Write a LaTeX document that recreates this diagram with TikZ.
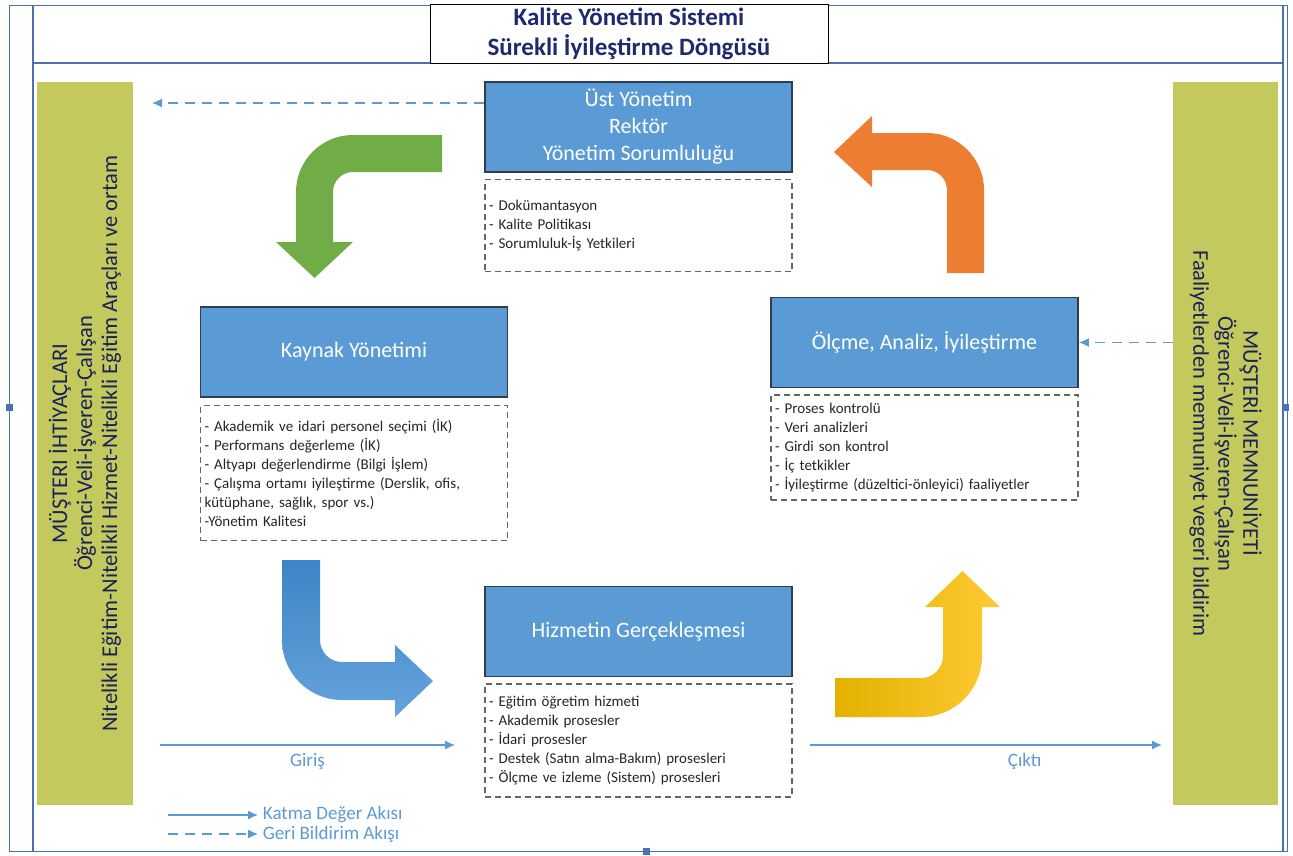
\documentclass[tikz,border=0pt]{standalone}
\usepackage{fontspec}
\setmainfont{Carlito}
\usetikzlibrary{positioning,arrows.meta}

\definecolor{boxblue}{HTML}{5B9BD5}
\definecolor{boxedge}{HTML}{2E3D4F}
\definecolor{barolive}{HTML}{C4C95D}
\definecolor{navy}{HTML}{1F2A6E}
\definecolor{flowblue}{HTML}{5B9BD5}
\definecolor{framebl}{HTML}{4A72B0}
\definecolor{arrgreen}{HTML}{70AD47}
\definecolor{arrorange}{HTML}{ED7D31}
\definecolor{arrblueA}{HTML}{3D85C6}
\definecolor{arrblueB}{HTML}{66A3DC}
\definecolor{arryelA}{HTML}{E3B200}
\definecolor{arryelB}{HTML}{FFC933}

\begin{document}
\begin{tikzpicture}[x=1pt, y=1pt,
		frame/.style     = {draw=framebl, line width=1.2pt},
		title/.style     = {draw, fill=white, thick, minimum width=398pt, minimum height=58pt, align=center, text=navy, font=\fontsize{25}{30}\selectfont\bfseries},
		process/.style   = {draw=boxedge, line width=1.8pt, fill=boxblue, minimum width=307pt, minimum height=90pt, align=center, text=white, font=\fontsize{22}{27}\selectfont},
		notes/.style     = {draw=gray!80!black, line width=1.2pt, dash pattern=on 6pt off 4pt, fill=white, text width=299pt, inner xsep=4pt, align=left, text=black!85, font=\fontsize{15}{19}\selectfont},
		sidebar/.style   = {fill=barolive, minimum width=723pt, align=center, text=navy!80!black, font=\fontsize{22.5}{25}\selectfont},
		flow/.style      = {->, draw=flowblue, line width=1.2pt},
		feedback/.style  = {flow, dash pattern=on 10pt off 7pt},
		flowlabel/.style = {text=flowblue, font=\fontsize{19}{21}\selectfont},
		>={Latex[length=10pt,width=9pt]}]
	
	\useasboundingbox (0,0) rectangle (1293,-855);
	
	% page frame and title
	\draw[frame, line width=0.8pt] (9,-5) rectangle (1287,-851);
	\draw[frame] (33,-5) -- (33,-851);
	\draw[frame] (1283,-5) -- (1283,-851);
	\draw[frame] (33,-63) -- (1283,-63);
	\foreach \hx/\hy in {9/407, 1285/407, 646/851}
	\fill[framebl] (\hx-3.5,-\hy-3.5) rectangle (\hx+3.5,-\hy+3.5);
	
	\node[title] (baslik) at (629,-34) {Kalite Yönetim Sistemi\\Sürekli İyileştirme Döngüsü};
	
	% customer bars
	\node[sidebar, rotate=90, minimum height=96pt] (ihtiyac) at (85,-443.5)
	{MÜŞTERI İHTİYAÇLARI\\Öğrenci-Veli-İşveren-Çalışan\\Nitelikli Eğitim-Nitelikli Hizmet-Nitelikli Eğitim Araçları ve ortam};
	\node[sidebar, rotate=-90, minimum height=105pt] (memnun) at (1225.5,-443.5)
	{MÜŞTERİ MEMNUNİYETİ\\Öğrenci-Veli-İşveren-Çalışan\\Faaliyetlerden memnuniyet vegeri bildirim};
	
	% the four processes, notes below each one
	\node[process] (ust)    at (638.5,-127)  {Üst Yönetim\\Rektör\\Yönetim Sorumluluğu};
	\node[process] (kaynak) at (354,-352)    {Kaynak Yönetimi};
	\node[process] (olcme)  at (924.5,-342.5) {Ölçme, Analiz, İyileştirme};
	\node[process] (hizmet) at (638.5,-631.5) {Hizmetin Gerçekleşmesi};
	
	\node[notes, below=6pt of ust, minimum height=92pt] (ustN)
	{- Dokümantasyon\\- Kalite Politikası\\- Sorumluluk-İş Yetkileri};
	\node[notes, below=7pt of kaynak, minimum height=135pt] (kaynakN)
	{- Akademik ve idari personel seçimi (İK)\\- Performans değerleme (İK)\\- Altyapı değerlendirme (Bilgi İşlem)\\- Çalışma ortamı iyileştirme (Derslik, ofis,\\kütüphane, sağlık, spor vs.)\\-Yönetim Kalitesi};
	\node[notes, below=6pt of olcme, minimum height=105pt] (olcmeN)
	{- Proses kontrolü\\- Veri analizleri\\- Girdi son kontrol\\- İç tetkikler\\- İyileştirme (düzeltici-önleyici) faaliyetler};
	\node[notes, below=6pt of hizmet, minimum height=113pt] (hizmetN)
	{- Eğitim öğretim hizmeti\\- Akademik prosesler\\- İdari prosesler\\- Destek (Satın alma-Bakım) prosesleri\\- Ölçme ve izleme (Sistem) prosesleri};
	
	% bent cycle arrows
	\fill[arrgreen] (442,-135) -- (353,-135) arc[start angle=90, end angle=180, radius=57]
	-- (296,-242) -- (276,-242) -- (314.5,-278) -- (353,-242) -- (333,-242)
	-- (333,-192) arc[start angle=180, end angle=90, radius=20] -- (442,-172) -- cycle;
	\shade[top color=arrblueA, bottom color=arrblueB] (282,-560) -- (320,-560) -- (320,-640)
	arc[start angle=180, end angle=270, radius=22] -- (395,-662) -- (395,-645) -- (433,-681)
	-- (395,-717) -- (395,-700) -- (342,-700) arc[start angle=270, end angle=180, radius=60] -- cycle;
	\shade[left color=arryelA, right color=arryelB] (835,-678) -- (921,-678)
	arc[start angle=270, end angle=360, radius=22] -- (943,-607) -- (925,-607) -- (962.5,-571)
	-- (1000,-607) -- (982,-607) -- (982,-656) arc[start angle=0, end angle=-90, radius=61]
	-- (835,-717) -- cycle;
	\fill[arrorange] (834,-152) -- (872,-116) -- (872,-133) -- (927,-133)
	arc[start angle=90, end angle=0, radius=57] -- (984,-273) -- (947,-273) -- (947,-190)
	arc[start angle=0, end angle=90, radius=20] -- (872,-170) -- (872,-187) -- cycle;
	
	% feedback flow
	\coordinate (geriSol) at (152,-103);
	\draw[feedback] (ust.west |- geriSol) -- (geriSol);
	\draw[feedback] (memnun.south |- olcme.east) -- (olcme.east);
	
	% value added flow
	\coordinate (girisA) at (160,-745);
	\coordinate (girisB) at (455,-745);
	\coordinate (ciktiA) at (810,-745);
	\coordinate (ciktiB) at (1162,-745);
	\draw[flow] (girisA) -- node[below=4pt, flowlabel] {Giriş} (girisB);
	\draw[flow] (ciktiA) -- node[pos=0.61, below=4pt, flowlabel] {Çıktı} (ciktiB);
	
	% legend
	\foreach \i/\ly/\sty/\txt in {1/815/flow/Katma Değer Akısı, 2/834/feedback/Geri Bildirim Akışı}{
		\coordinate (key\i a) at (168,-\ly);
		\coordinate (key\i b) at (258,-\ly);
		\draw[\sty] (key\i a) -- (key\i b) node[right=1pt, flowlabel] {\txt};
	}
\end{tikzpicture}
\end{document}
